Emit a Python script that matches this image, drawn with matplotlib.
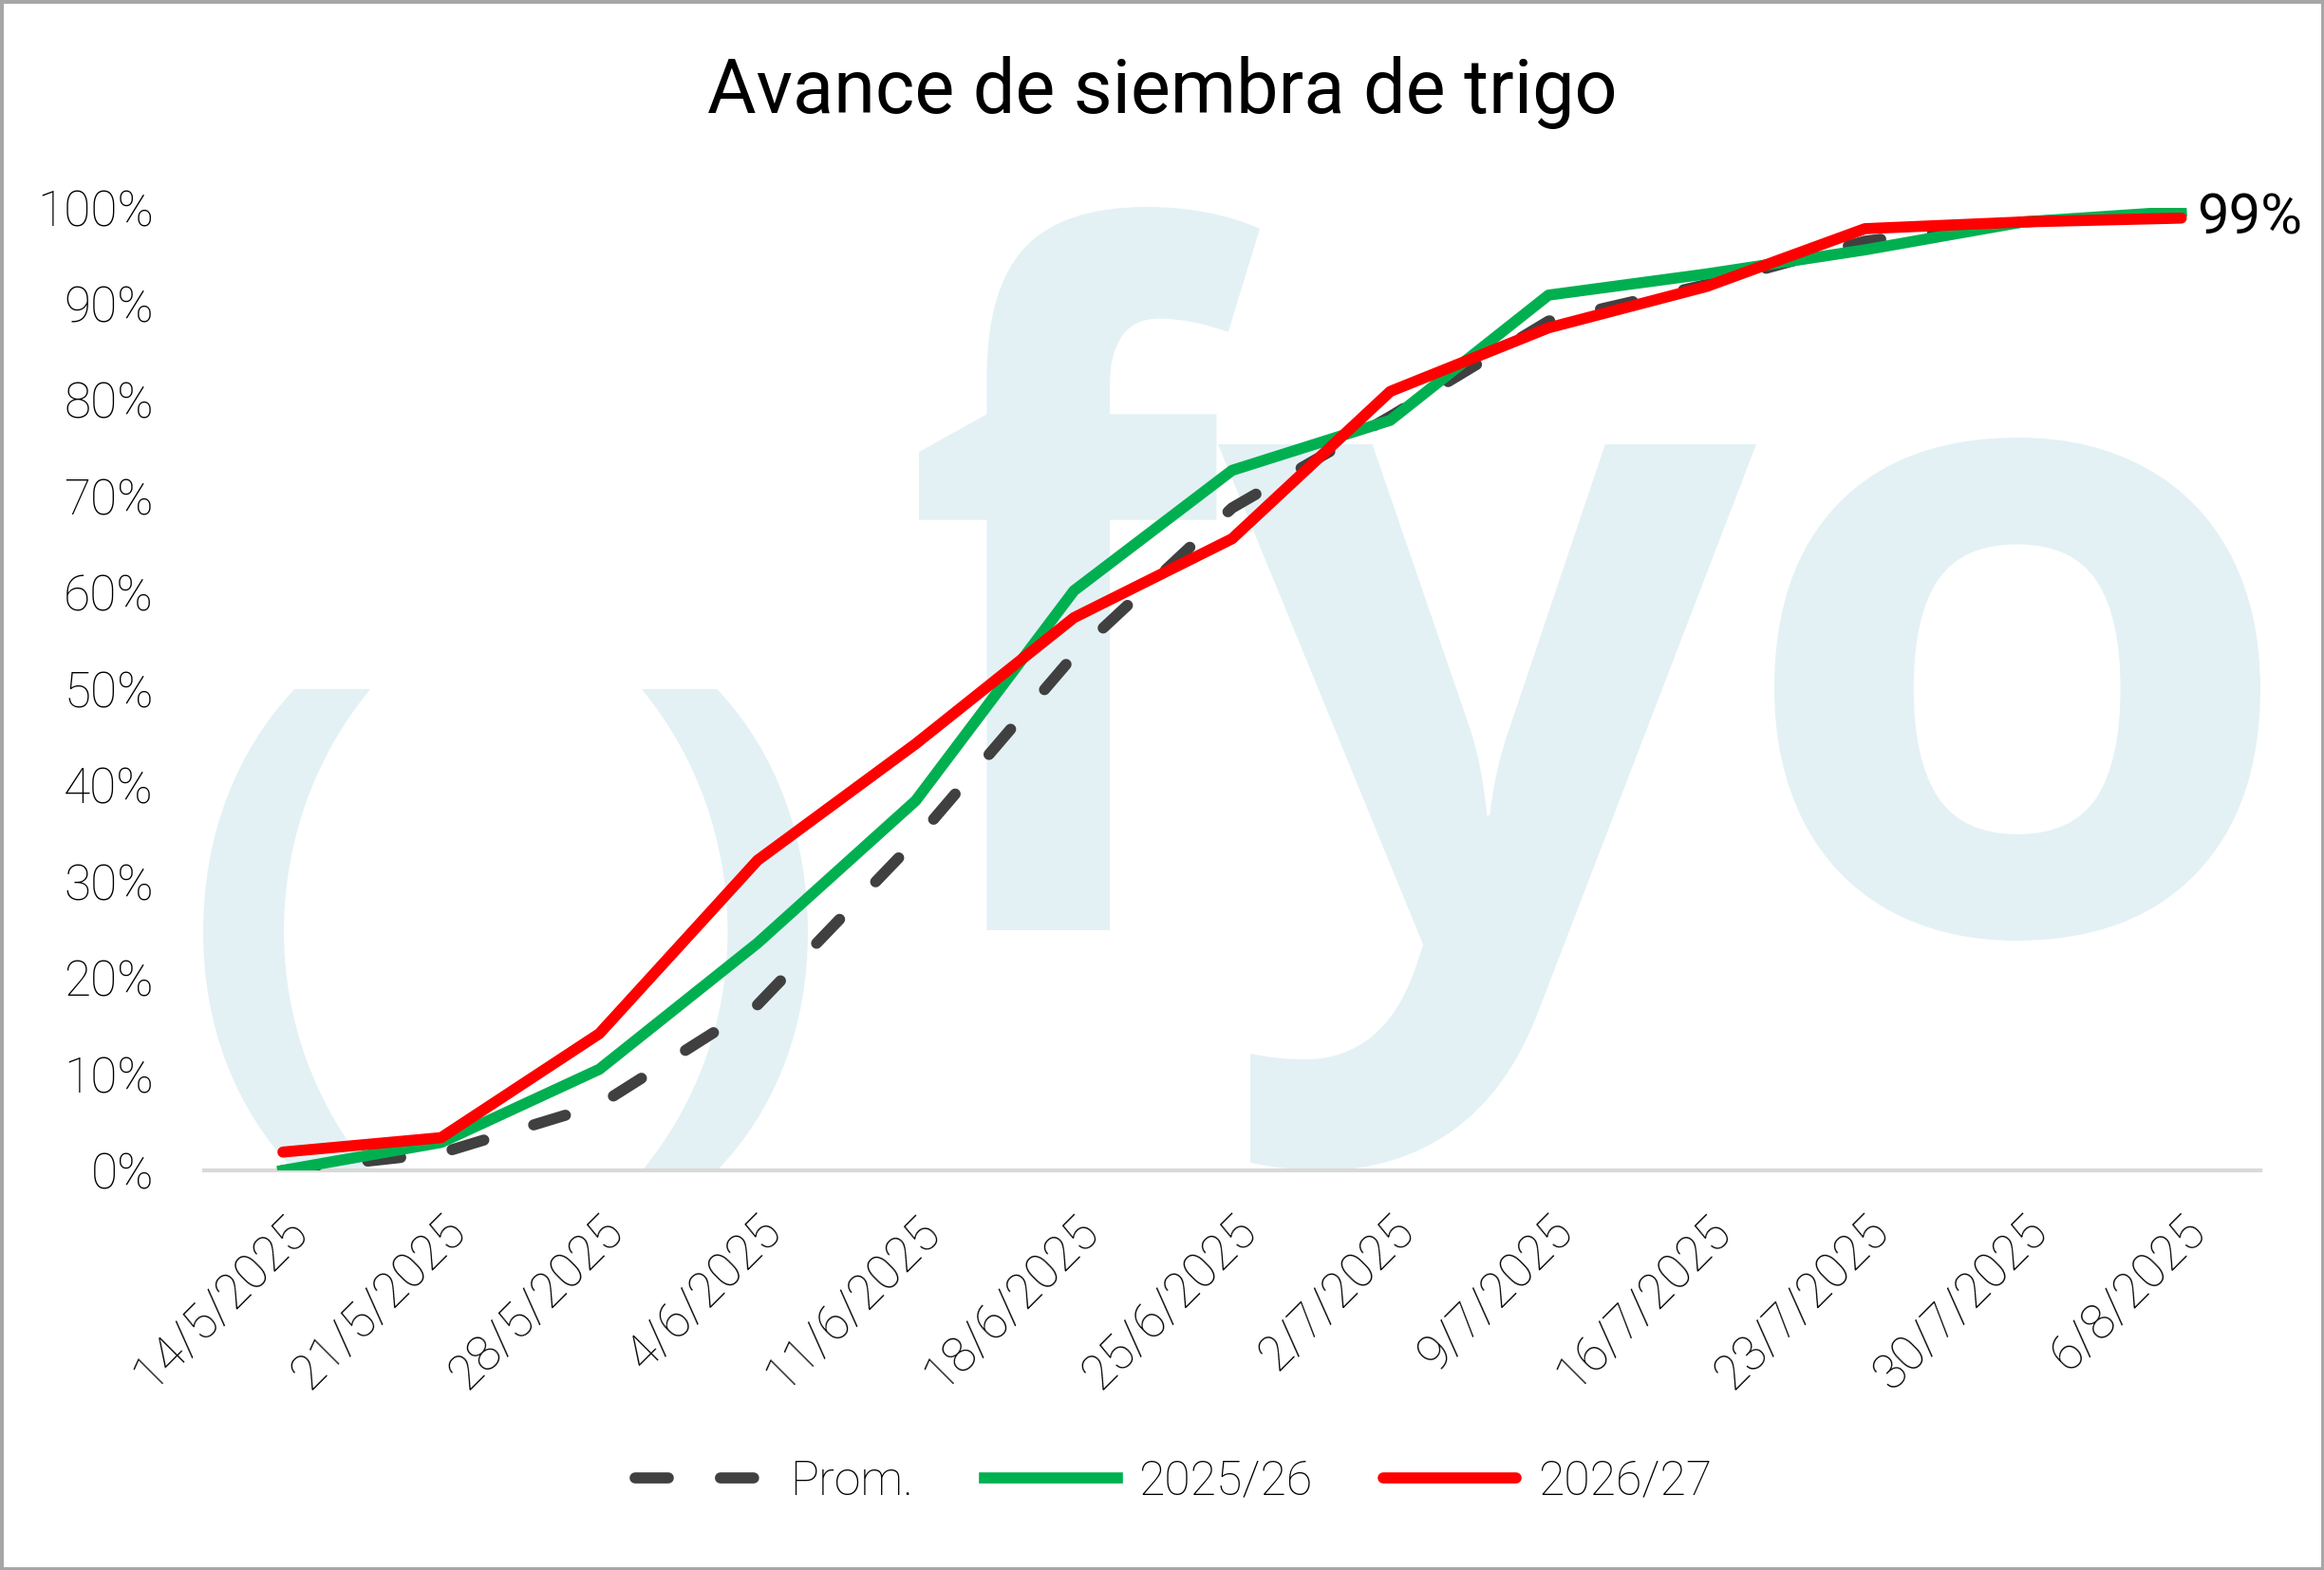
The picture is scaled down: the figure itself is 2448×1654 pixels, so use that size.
import matplotlib
matplotlib.use("Agg")
import matplotlib.pyplot as plt
from matplotlib.textpath import TextPath
from matplotlib.patches import PathPatch, Rectangle
from matplotlib.font_manager import FontProperties
from matplotlib.transforms import Affine2D
from matplotlib.ticker import PercentFormatter
import numpy as np

# --- data ---------------------------------------------------------------
fechas = ["14/5/2025", "21/5/2025", "28/5/2025", "4/6/2025", "11/6/2025",
          "18/6/2025", "25/6/2025", "2/7/2025", "9/7/2025", "16/7/2025",
          "23/7/2025", "30/7/2025", "6/8/2025"]
prom = [0.0, 1.8, 6.8, 17.2, 34.3, 53.5, 68.8, 78.3, 88.2, 92.0, 96.5, 98.5, 99.3]
camp_2025 = [0.0, 2.9, 10.5, 23.6, 38.4, 60.2, 72.7, 77.9, 90.9, 93.1, 95.6, 98.5, 99.6]
camp_2026 = [1.9, 3.4, 14.2, 32.2, 44.3, 57.4, 65.6, 80.9, 87.5, 91.8, 97.8, 98.5, 98.9]
yticks = np.arange(0, 101, 10)

W, H, DPI = 2448, 1654, 200
FONT = "Roboto"
plt.rcParams["font.family"] = [FONT, "DejaVu Sans"]

fig = plt.figure(figsize=(W / DPI, H / DPI), dpi=DPI)
ax = fig.add_axes([214.7 / W, 1 - 1233 / H, (2381 - 214.7) / W, (1233 - 218.6) / H])
ax.set_facecolor("none")


def add_glyph(ch, box, fp, color="#e3f1f5"):
    """Draw one watermark glyph stretched into a pixel box (x0, y0, x1, y1)."""
    path = TextPath((0, 0), ch, size=100, prop=fp)
    ext = path.get_extents()
    x0, y0, x1, y1 = box
    tr = (Affine2D().translate(-ext.x0, -ext.y0)
          .scale((x1 - x0) / ext.width / W, (y1 - y0) / ext.height / H)
          .translate(x0 / W, 1 - y1 / H))
    patch = PathPatch(tr.transform_path(path), transform=fig.transFigure,
                      facecolor=color, edgecolor="none", zorder=-5)
    fig.patches.append(patch)


wm_font = FontProperties(family="Open Sans", weight="bold")
add_glyph("(", (214, 726, 390, 1233), wm_font)
add_glyph(")", (676, 726, 851, 1233), wm_font)
add_glyph("f", (968, 218, 1327, 980), wm_font)
add_glyph("y", (1283, 468, 1850, 1233), wm_font)
add_glyph("o", (1869, 461, 2381, 991), wm_font)

x = np.arange(len(fechas))
lw = 4.2
ax.plot(x, prom, color="#404040", lw=lw, dashes=(3.0, 4.7),
        dash_capstyle="round", label="Prom.", zorder=3)
ax.plot(x, camp_2025, color="#00b050", lw=lw, label="2025/26", zorder=4)
ax.plot(x, camp_2026, color="#ff0000", lw=lw, label="2026/27", zorder=5,
        solid_capstyle="round")

ax.annotate(f"{camp_2026[-1]:.0f}%", xy=(x[-1], camp_2026[-1]),
            xytext=(6, 0), textcoords="offset points", va="center", ha="left",
            fontsize=21.5, fontweight="normal", color="black")

ax.set_xlim(-0.5, len(fechas) - 0.5)
ax.set_ylim(0, 100)
ax.set_yticks(yticks)
ax.yaxis.set_major_formatter(PercentFormatter(decimals=0))
ax.set_xticks(x)
ax.set_xticklabels(fechas, rotation=45, ha="right", rotation_mode="anchor")
ax.tick_params(axis="y", length=0, pad=19, labelsize=18.5, labelcolor="black")
ax.tick_params(axis="x", length=0, pad=14, labelsize=18.5, labelcolor="black")
for lbl in ax.get_xticklabels() + ax.get_yticklabels():
    lbl.set_fontweight("light")
for side in ("top", "right", "left"):
    ax.spines[side].set_visible(False)
ax.spines["bottom"].set_color("#d9d9d9")
ax.spines["bottom"].set_linewidth(1.5)
ax.spines["bottom"].set_zorder(1)

fig.text(0.5, 1 - 97 / H, "Avance de siembra de trigo", ha="center", va="center",
         fontsize=28.5, color="black")

leg = fig.legend(loc="center", bbox_to_anchor=(0.505, 1 - 1561 / H), ncol=3,
                 frameon=False, handlelength=2.8, handletextpad=0.45,
                 columnspacing=1.5, prop={"size": 18, "weight": "light"})
for t in leg.get_texts():
    t.set_color("black")

fig.patches.append(Rectangle((0, 0), 1, 1, transform=fig.transFigure,
                             facecolor="none", edgecolor="#a6a6a6", lw=2.5,
                             zorder=10))

fig.savefig("out.png", dpi=DPI, facecolor="white")
